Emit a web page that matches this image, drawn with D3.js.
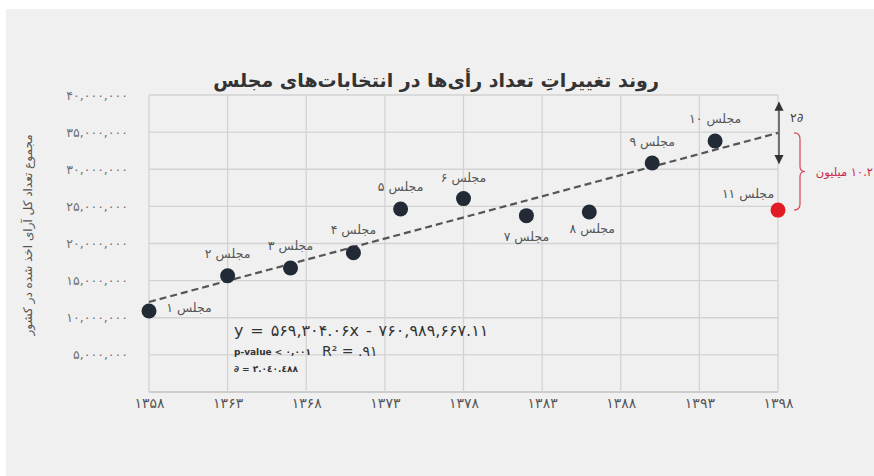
<!DOCTYPE html>
<html><head><meta charset="utf-8">
<script src="https://cdn.jsdelivr.net/npm/d3@7"></script>
<style>
html,body{margin:0;padding:0;background:#fff;}
svg{display:block;}
text{font-family:"DejaVu Sans",sans-serif;}
</style></head>
<body>
<svg id="c" width="874" height="476"></svg>
<script>
// ---- data ----
const years = [1358,1363,1367,1371,1374,1378,1382,1386,1390,1394,1398];
const votes = [10.9e6,15.65e6,16.7e6,18.75e6,24.65e6,26.05e6,23.75e6,24.25e6,30.85e6,33.8e6,24.5e6];
const labels = ["مجلس ۱","مجلس ۲","مجلس ۳","مجلس ۴","مجلس ۵","مجلس ۶","مجلس ۷","مجلس ۸","مجلس ۹","مجلس ۱۰","مجلس ۱۱"];
const xTicks = [1358,1363,1368,1373,1378,1383,1388,1393,1398];
const yTicks = [0,5e6,10e6,15e6,20e6,25e6,30e6,35e6,40e6];
const slope = 569304.06, intercept = -760989667.11;
const sigma = 2040488;
const title = "روند تغییراتِ تعداد رأی‌ها در انتخابات‌های مجلس";
const yTitle = "مجموع تعداد کل آرای اخذ شده در کشور";
const eqText = "y = ۵۶۹,۳۰۴.۰۶x - ۷۶۰,۹۸۹,۶۶۷.۱۱";
const pText = "p-value < ۰,۰۰۱";
const rText = "R² = .۹۱";
const sText = "∂ = ۲.۰٤۰.٤۸۸";
const gapText = "۱۰.۲ میلیون";
const sigmaLabel = "۲∂";

// ---- layout (not data) ----
const labelOffsets = [[40,-3],[0,-22],[0,-22],[0,-23],[0,-22],[0,-21],[0,21],[3,17],[0,-21],[0,-22],[-30,-16]];

const fa = s => String(s).replace(/[0-9]/g, d => "۰۱۲۳۴۵۶۷۸۹"[d]);
const svg = d3.select("#c");
svg.append("rect").attr("x",6).attr("y",9).attr("width",868).attr("height",467).attr("fill","#f0f0f0");

const x = d3.scaleLinear().domain([1358,1398]).range([149,778]);
const y = d3.scaleLinear().domain([0,40e6]).range([392,95]);

// grid
const g = svg.append("g");
g.selectAll(".hg").data(yTicks).join("line")
  .attr("x1",x(1358)).attr("x2",x(1398)).attr("y1",d=>y(d)).attr("y2",d=>y(d))
  .attr("stroke",d=>d===0?"#c0c0c0":"#d3d3d3").attr("stroke-width",1.3);
g.selectAll(".vg").data(xTicks).join("line")
  .attr("x1",d=>x(d)).attr("x2",d=>x(d)).attr("y1",y(0)).attr("y2",y(40e6))
  .attr("stroke","#d3d3d3").attr("stroke-width",1.3);

// axes labels
const yAxis = d3.axisLeft(y).tickValues(yTicks.slice(1)).tickSize(0).tickPadding(0)
  .tickFormat(d=>fa(d3.format(",")(d)));
const ya = svg.append("g").attr("transform","translate(128,0)").call(yAxis);
ya.select(".domain").remove();
ya.selectAll("text").attr("font-size",12.5).attr("fill","#707070").attr("font-family","DejaVu Sans").attr("letter-spacing",1);

const xAxis = d3.axisBottom(x).tickValues(xTicks).tickSize(0).tickPadding(0).tickFormat(d=>fa(d));
const xa = svg.append("g").attr("transform","translate(0,398)").call(xAxis);
xa.select(".domain").remove();
xa.selectAll("text").attr("font-size",14).attr("fill","#555").attr("font-family","DejaVu Sans");

// trend line
const trend = d => slope*d + intercept;
svg.append("path")
  .attr("d", d3.line().x(d=>x(d)).y(d=>y(trend(d)))([1358,1398]))
  .attr("stroke","#555").attr("stroke-width",2.2).attr("stroke-dasharray","7,4").attr("fill","none");

// points
svg.selectAll(".pt").data(years).join("circle")
  .attr("cx",d=>x(d)).attr("cy",(d,i)=>y(votes[i])).attr("r",7.5)
  .attr("fill",(d,i)=>i===years.length-1?"#e31b23":"#222a36");

svg.selectAll(".pl").data(labels).join("text")
  .attr("x",(d,i)=>x(years[i])+labelOffsets[i][0])
  .attr("y",(d,i)=>y(votes[i])+labelOffsets[i][1])
  .attr("dy","0.35em").attr("text-anchor","middle")
  .attr("font-size",12.5).attr("fill","#555").text(d=>d);

// sigma arrow
const last = years[years.length-1];
const ax = x(last)+1;
svg.append("defs").html('<marker id="ah" viewBox="0 0 10 10" refX="9" refY="5" markerWidth="7" markerHeight="7" orient="auto-start-reverse"><path d="M0,0L10,5L0,10z" fill="#333"/></marker>');
svg.append("line").attr("x1",ax).attr("x2",ax)
  .attr("y1",y(trend(last)+2*sigma)).attr("y2",y(trend(last)-2*sigma))
  .attr("stroke","#333").attr("stroke-width",1.3)
  .attr("marker-start","url(#ah)").attr("marker-end","url(#ah)");
svg.append("text").attr("x",ax+11).attr("y",y(trend(last)+sigma)).attr("dy","0.35em")
  .attr("font-size",12.5).attr("fill","#444").attr("direction","ltr").text(sigmaLabel);

// brace
const b0 = y(trend(last)), b1 = y(votes[votes.length-1]), bm = (b0+b1)/2, bx = 794;
svg.append("path")
  .attr("d",`M${bx},${b0} Q${bx+6},${b0} ${bx+6},${b0+6} L${bx+6},${bm-5} Q${bx+6},${bm} ${bx+11},${bm} Q${bx+6},${bm} ${bx+6},${bm+5} L${bx+6},${b1-6} Q${bx+6},${b1} ${bx},${b1}`)
  .attr("fill","none").attr("stroke","#d2455a").attr("stroke-width",1.2);
svg.append("text").attr("x",873).attr("y",bm).attr("dy","0.35em")
  .attr("font-size",11.5).attr("fill","#c8264a").attr("direction","rtl").attr("text-anchor","start")
  .text(gapText);

// equation texts
svg.append("text").attr("x",234).attr("y",330).attr("dy","0.35em").attr("font-size",16).attr("fill","#333")
  .attr("letter-spacing",0.9).attr("direction","ltr").text(eqText);
svg.append("text").attr("x",234).attr("y",352).attr("dy","0.35em").attr("font-size",9).attr("font-weight","bold")
  .attr("fill","#333").attr("direction","ltr").text(pText);
svg.append("text").attr("x",322).attr("y",351).attr("dy","0.35em").attr("font-size",14).attr("fill","#333")
  .attr("direction","ltr").text(rText);
svg.append("text").attr("x",234).attr("y",369).attr("dy","0.35em").attr("font-size",9).attr("font-weight","bold")
  .attr("fill","#333").attr("direction","ltr").text(sText);

// titles
svg.append("text").attr("x",436).attr("y",80).attr("dy","0.35em").attr("text-anchor","middle")
  .attr("font-size",19).attr("font-weight","bold").attr("fill","#333").attr("direction","rtl").text(title);
svg.append("text").attr("transform","translate(28,235) rotate(-90)").attr("dy","0.35em").attr("text-anchor","middle")
  .attr("font-size",12).attr("fill","#555").attr("direction","rtl").text(yTitle);
</script>
</body></html>
